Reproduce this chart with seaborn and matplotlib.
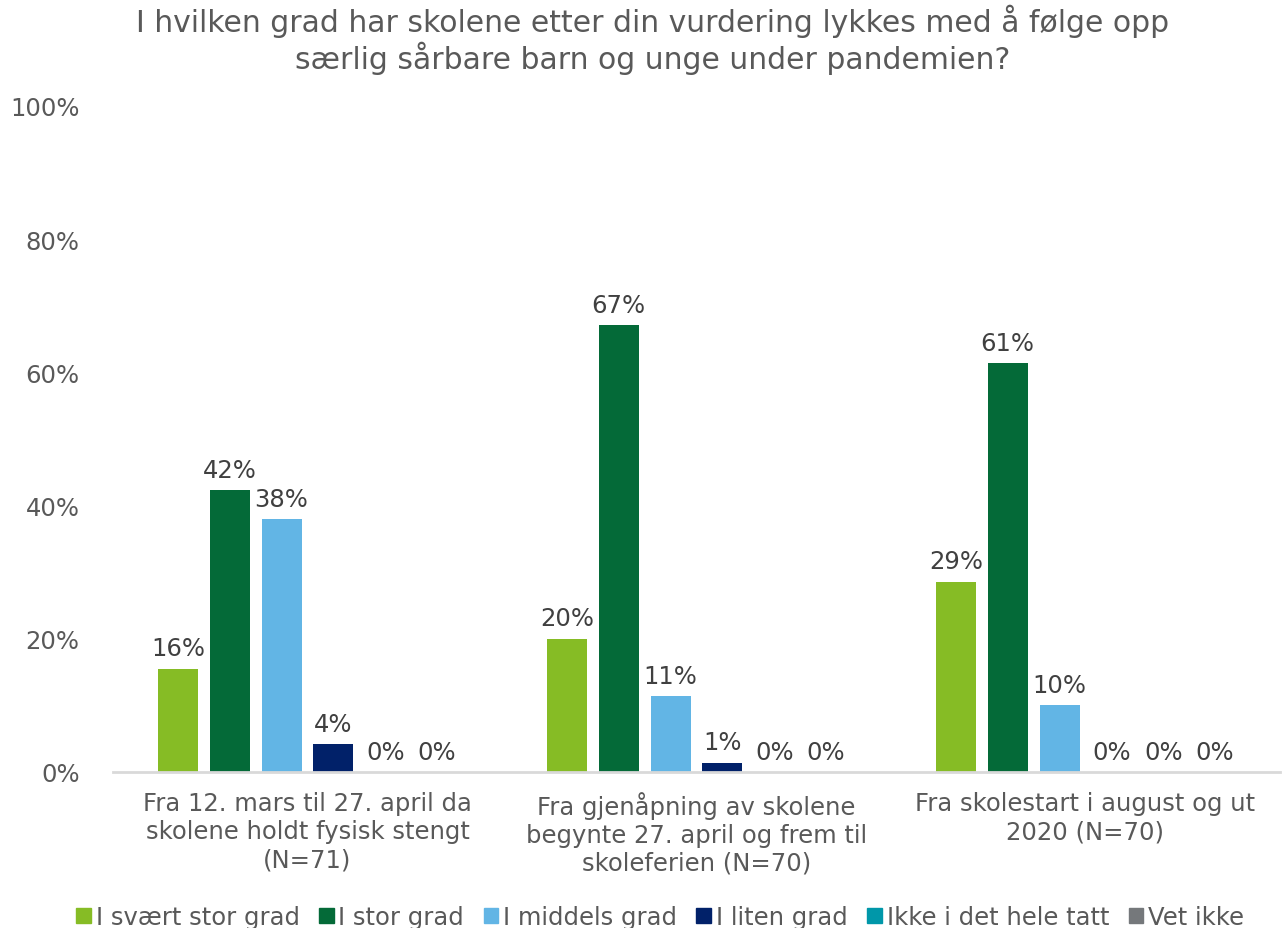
import pandas as pd
import matplotlib.pyplot as plt
import seaborn as sns

periods = [
    "Fra 12. mars til 27. april da\nskolene holdt fysisk stengt\n(N=71)",
    "Fra gjenåpning av skolene\nbegynte 27. april og frem til\nskoleferien (N=70)",
    "Fra skolestart i august og ut\n2020 (N=70)",
]
answers = ["I svært stor grad", "I stor grad", "I middels grad",
           "I liten grad", "Ikke i det hele tatt", "Vet ikke"]

# percent per answer, one list per period
period1 = [15.5, 42.3, 38.0, 4.2, 0.0, 0.0]
period2 = [20.0, 67.1, 11.4, 1.4, 0.0, 0.0]
period3 = [28.6, 61.4, 10.0, 0.0, 0.0, 0.0]

colors = ["#86BC25", "#046A38", "#62B5E5", "#012169", "#0097A9", "#75787B"]

rows = []
for period, vals in zip(periods, [period1, period2, period3]):
    for ans, v in zip(answers, vals):
        rows.append({"period": period, "answer": ans, "pct": v})
df = pd.DataFrame(rows)

sns.set_style("white")
plt.rcParams["font.family"] = ["DejaVu Sans"]

fig = plt.figure(figsize=(12.83, 9.29), dpi=100)
ax = fig.add_axes([113 / 1283, 1 - 773 / 929, 1167 / 1283, 666 / 929])

sns.barplot(data=df, x="period", y="pct", hue="answer", hue_order=answers,
            palette=colors, saturation=1, width=0.8, gap=0.23, linewidth=0,
            ax=ax, legend=False)

for cont, ans in zip(ax.containers, answers):
    vals = df.loc[df["answer"] == ans, "pct"].tolist()
    ax.bar_label(cont, labels=[f"{v:.0f}%" for v in vals], padding=6,
                 fontsize=17.5, color="#404040")

ax.set_ylim(0, 100)
ax.set_xlim(-0.5, 2.5)
ax.set_yticks(range(0, 101, 20))
ax.set_yticklabels([f"{t}%" for t in range(0, 101, 20)])
ax.tick_params(axis="y", length=0, pad=24, labelsize=17.5, labelcolor="#595959")
ax.tick_params(axis="x", length=0, pad=14, labelsize=17.5, labelcolor="#595959")
for lbl in ax.get_xticklabels():
    lbl.set_linespacing(1.2)
ax.set_xlabel("")
ax.set_ylabel("")
for s in ["top", "right", "left"]:
    ax.spines[s].set_visible(False)
ax.spines["bottom"].set_color("#D9D9D9")
ax.spines["bottom"].set_linewidth(2)

fig.text(653 / 1283, 1 - 40 / 929,
         "I hvilken grad har skolene etter din vurdering lykkes med å følge opp\n"
         "særlig sårbare barn og unge under pandemien?",
         ha="center", va="center", fontsize=21.5, color="#595959", linespacing=1.15)

handles = [plt.Rectangle((0, 0), 1, 1, color=c) for c in colors]
fig.legend(handles, answers, loc="center", bbox_to_anchor=(660 / 1283, 1 - 918 / 929),
           ncol=6, frameon=False, fontsize=17.5, handlelength=0.6, handleheight=0.6,
           handletextpad=0.2, columnspacing=0.8, labelcolor="#595959")

fig.savefig("out.png", dpi=100)
